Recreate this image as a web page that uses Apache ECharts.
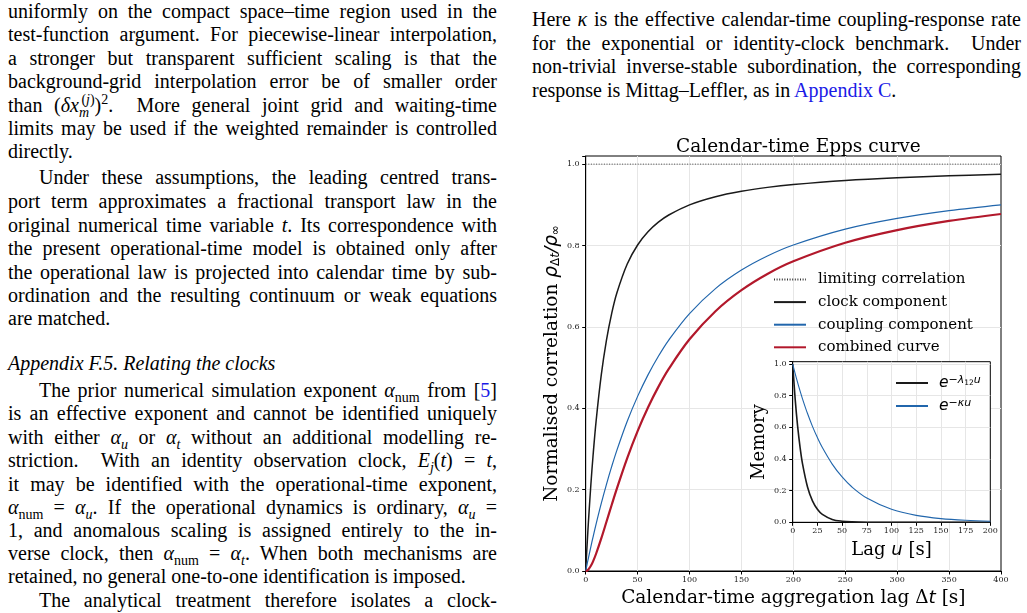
<!DOCTYPE html>
<html><head><meta charset="utf-8">
<script src="https://cdn.jsdelivr.net/npm/echarts@6.0.0/dist/echarts.min.js"></script>
<style>
html,body{margin:0;padding:0;background:#fff;width:1027px;height:613px;overflow:hidden}
#page{position:absolute;left:0;top:0;width:1027px;height:613px;font-family:'Liberation Serif','Times New Roman',serif;font-size:20px;color:#000}
.ln{position:absolute;line-height:24px;height:24px;white-space:normal}
.j{text-align:justify;text-align-last:justify}
.L{left:8px;width:489px}
.R{left:532px;width:489px}
.in{text-indent:31px}
a{color:#1a1ae6;text-decoration:none}
sub,sup{font-size:70%;line-height:0}
#chart{position:absolute;left:0;top:0;width:1027px;height:613px}
</style></head><body>
<div id="page">
<div class="ln L j" style="top:-1.3px">uniformly on the compact space–time region used in the</div>
<div class="ln L j" style="top:22px">test-function argument. For piecewise-linear interpolation,</div>
<div class="ln L j" style="top:45.5px">a stronger but transparent sufficient scaling is that the</div>
<div class="ln L j" style="top:69px">background-grid interpolation error be of smaller order</div>
<div class="ln L j" style="top:92.5px">than (<i>δx</i><sub><i>m</i></sub><sup style="margin-left:-0.55em">(<i>j</i>)</sup>)<sup>2</sup>.&nbsp; More general joint grid and waiting-time</div>
<div class="ln L j" style="top:116px">limits may be used if the weighted remainder is controlled</div>
<div class="ln L" style="top:139.3px">directly.</div>
<div class="ln L j in" style="top:165.3px">Under these assumptions, the leading centred trans-</div>
<div class="ln L j" style="top:189px">port term approximates a fractional transport law in the</div>
<div class="ln L j" style="top:212.5px">original numerical time variable <i>t</i>. Its correspondence with</div>
<div class="ln L j" style="top:236px">the present operational-time model is obtained only after</div>
<div class="ln L j" style="top:259.5px">the operational law is projected into calendar time by sub-</div>
<div class="ln L j" style="top:283px">ordination and the resulting continuum or weak equations</div>
<div class="ln L" style="top:306.3px">are matched.</div>
<div class="ln L" style="top:351px"><i>Appendix F.5. Relating the clocks</i></div>
<div class="ln L j in" style="top:377.5px">The prior numerical simulation exponent <i>α</i><sub>num</sub> from [<a>5</a>]</div>
<div class="ln L j" style="top:401px">is an effective exponent and cannot be identified uniquely</div>
<div class="ln L j" style="top:424.5px">with either <i>α<sub>u</sub></i> or <i>α<sub>t</sub></i> without an additional modelling re-</div>
<div class="ln L j" style="top:448px">striction.&nbsp; With an identity observation clock, <i>E<sub>j</sub></i>(<i>t</i>) = <i>t</i>,</div>
<div class="ln L j" style="top:471.5px">it may be identified with the operational-time exponent,</div>
<div class="ln L j" style="top:494.5px"><i>α</i><sub>num</sub> = <i>α<sub>u</sub></i>. If the operational dynamics is ordinary, <i>α<sub>u</sub></i> =</div>
<div class="ln L j" style="top:517.5px">1, and anomalous scaling is assigned entirely to the in-</div>
<div class="ln L j" style="top:540.5px">verse clock, then <i>α</i><sub>num</sub> = <i>α<sub>t</sub></i>. When both mechanisms are</div>
<div class="ln L" style="top:564px">retained, no general one-to-one identification is imposed.</div>
<div class="ln L j in" style="top:587.5px">The analytical treatment therefore isolates a clock-</div>

<div class="ln R j" style="top:7px">Here <i>κ</i> is the effective calendar-time coupling-response rate</div>
<div class="ln R j" style="top:30.5px">for the exponential or identity-clock benchmark.&nbsp; Under</div>
<div class="ln R j" style="top:54px">non-trivial inverse-stable subordination, the corresponding</div>
<div class="ln R" style="top:77.5px">response is Mittag–Leffler, as in <a>Appendix C</a>.</div>
</div>
<div id="chart"></div>
<script>
// ---- data ----
const lagDt = [0,1,2,3,5,7,10,15,20,25,30,40,50,60,70,80,100,125,150,175,200,250,300,350,400];
const clockComponent = [0,0.0484,0.0936,0.1361,0.2131,0.2808,0.3679,0.4821,0.5677,0.6328,0.6833,0.7546,0.8013,0.8337,0.8573,0.8750,0.9000,0.9200,0.9333,0.9429,0.9500,0.9600,0.9667,0.9714,0.9750];
const couplingComponent = [0,0.0124,0.0246,0.0366,0.0600,0.0826,0.1152,0.1661,0.2131,0.2564,0.2965,0.3679,0.4292,0.4821,0.5279,0.5677,0.6328,0.6941,0.7396,0.7743,0.8013,0.8403,0.8667,0.8857,0.9000];
const combinedCurve = [0,0.0006,0.0023,0.0050,0.0128,0.0232,0.0424,0.0801,0.1210,0.1622,0.2026,0.2776,0.3439,0.4019,0.4526,0.4967,0.5695,0.6386,0.6903,0.7301,0.7612,0.8067,0.8378,0.8604,0.8775];
const limitLag = [0,400];
const limitValue = [1,1];
const lagU = [0,2.5,5,7.5,10,15,20,25,30,40,50,60,75,100,125,150,175,200];
const memoryLambda = [1,0.7788,0.6065,0.4724,0.3679,0.2231,0.1353,0.0821,0.0498,0.0183,0.0067,0.0025,0.0006,0,0,0,0,0];
const memoryKappa = [1,0.9394,0.8825,0.8290,0.7788,0.6873,0.6065,0.5353,0.4724,0.3679,0.2865,0.2231,0.1534,0.0821,0.0439,0.0235,0.0126,0.0067];
const mainTicksX = {min:0,max:400,interval:50};
const mainTicksY = {min:0,max:1.02,interval:0.2};
const insetTicksX = {min:0,max:200,interval:25};
const insetTicksY = {min:0,max:1.015,interval:0.2};

const pairs = (xs, ys) => xs.map((x,i)=>[x, ys[i]]);
const SERIF = 'DejaVu Serif';
const SANS = 'DejaVu Sans';
const tickLbl = {fontFamily:SERIF,fontSize:8,color:'#222'};
const oneDec = v => (Math.abs(v*5-Math.round(v*5))<1e-6 ? v.toFixed(1) : '');
const grid1 = {lineStyle:{color:'#e6e6e6',width:1},showMinLine:false,showMaxLine:false};

const chart = echarts.init(document.getElementById('chart'), null, {renderer:'canvas'});
const nameMain = {n:{fontFamily:SERIF,fontSize:18.5,color:'#000'},m:{fontFamily:SANS,fontStyle:'italic',fontSize:18.5,color:'#000'},s:{fontFamily:SANS,fontSize:12,color:'#000',verticalAlign:'bottom'},si:{fontFamily:SANS,fontStyle:'italic',fontSize:12,color:'#000',verticalAlign:'bottom'}};
const insetLegendText = {'e^{-λ12u}':'{e|e}{p|−λ}{q|12}{p|u}','e^{-κu}':'{e|e}{p|−κu}'};
const hideSym = {opacity:0,borderWidth:0};

chart.setOption({
  animation:false,
  backgroundColor:'transparent',
  title:{text:'Calendar-time Epps curve',left:793.4,top:133,textAlign:'center',textStyle:{fontFamily:SERIF,fontSize:18.5,fontWeight:'normal',color:'#000'}},
  grid:[
    {left:585.7,top:156,width:415.3,height:415,show:true,borderColor:'#000',borderWidth:1,backgroundColor:'transparent',z:0},
    {left:792.7,top:361.7,width:197.6,height:160.6,show:true,borderColor:'#000',borderWidth:1,backgroundColor:'#fff',z:5}
  ],
  xAxis:[
    {type:'value',gridIndex:0,...mainTicksX,axisLine:{show:true,onZero:false,lineStyle:{color:'#000',width:1}},axisTick:{show:true,length:3.5,lineStyle:{color:'#000'}},axisLabel:{...tickLbl,margin:5,formatter:v=>String(v)},splitLine:{show:true,...grid1},
     name:'{n|Calendar-time aggregation lag Δ}{m|t}{n| [s]}',nameLocation:'middle',nameGap:17.5,nameTextStyle:{rich:nameMain}},
    {type:'value',gridIndex:1,...insetTicksX,z:6,axisLine:{show:true,onZero:false,lineStyle:{color:'#000',width:1}},axisTick:{show:true,length:3.5,lineStyle:{color:'#000'}},axisLabel:{...tickLbl,margin:5,formatter:v=>String(v)},splitLine:{show:true,...grid1},
     name:'{n|Lag }{m|u}{n| [s]}',nameLocation:'middle',nameGap:19,nameTextStyle:{rich:{n:{fontFamily:SERIF,fontSize:18,color:'#000'},m:{fontFamily:SANS,fontStyle:'italic',fontSize:18,color:'#000'}}}}
  ],
  yAxis:[
    {type:'value',gridIndex:0,...mainTicksY,axisLine:{show:true,onZero:false,lineStyle:{color:'#000',width:1}},axisTick:{show:true,length:3.5,lineStyle:{color:'#000'}},axisLabel:{...tickLbl,margin:6,formatter:oneDec},splitLine:{show:true,...grid1},
     name:'{n|Normalised correlation }{m|ρ}{s|Δ}{si|t}{m|/ρ}{s|∞}',nameLocation:'middle',nameGap:24,nameRotate:90,nameTextStyle:{rich:nameMain}},
    {type:'value',gridIndex:1,...insetTicksY,z:6,axisLine:{show:true,onZero:false,lineStyle:{color:'#000',width:1}},axisTick:{show:true,length:3.5,lineStyle:{color:'#000'}},axisLabel:{...tickLbl,margin:6,formatter:oneDec},splitLine:{show:true,...grid1},
     name:'Memory',nameLocation:'middle',nameGap:24,nameRotate:90,nameTextStyle:{fontFamily:SERIF,fontSize:18,color:'#000'}}
  ],
  legend:[
    {data:['limiting correlation','clock component','coupling component','combined curve'],orient:'vertical',left:768,top:267,itemWidth:32,itemHeight:12,itemGap:7.6,selectedMode:false,z:4,itemStyle:hideSym,
     formatter:n=>'{g|}{t|'+n+'}',textStyle:{rich:{g:{width:7},t:{fontFamily:SERIF,fontSize:15,color:'#000'}}}},
    {data:['e^{-λ12u}','e^{-κu}'],orient:'vertical',left:890,top:370,itemWidth:32,itemHeight:12,itemGap:7,selectedMode:false,z:9,itemStyle:hideSym,
     formatter:n=>'{g|}'+insetLegendText[n],textStyle:{rich:{g:{width:6},e:{fontFamily:SANS,fontStyle:'italic',fontSize:15.5,color:'#000'},p:{fontFamily:SANS,fontStyle:'italic',fontSize:11,color:'#000',verticalAlign:'top'},q:{fontFamily:SANS,fontSize:7.5,color:'#000',verticalAlign:'middle'}}}}
  ],
  series:[
    {name:'limiting correlation',type:'line',xAxisIndex:0,yAxisIndex:0,data:pairs(limitLag,limitValue),symbol:'none',lineStyle:{color:'#333',width:0.9,type:[1,1.6]},itemStyle:{color:'#333'},z:2},
    {name:'clock component',type:'line',xAxisIndex:0,yAxisIndex:0,data:pairs(lagDt,clockComponent),symbol:'none',smooth:0.35,lineStyle:{color:'#1a1a1a',width:1.5},itemStyle:{color:'#1a1a1a'},z:2},
    {name:'coupling component',type:'line',xAxisIndex:0,yAxisIndex:0,data:pairs(lagDt,couplingComponent),symbol:'none',smooth:0.35,lineStyle:{color:'#2166ac',width:1.2},itemStyle:{color:'#2166ac'},z:2},
    {name:'combined curve',type:'line',xAxisIndex:0,yAxisIndex:0,data:pairs(lagDt,combinedCurve),symbol:'none',smooth:0.35,lineStyle:{color:'#b2182b',width:2.2},itemStyle:{color:'#b2182b'},z:2},
    {name:'e^{-λ12u}',type:'line',xAxisIndex:1,yAxisIndex:1,data:pairs(lagU,memoryLambda),symbol:'none',smooth:0.35,lineStyle:{color:'#1a1a1a',width:1.6},itemStyle:{color:'#1a1a1a'},z:7},
    {name:'e^{-κu}',type:'line',xAxisIndex:1,yAxisIndex:1,data:pairs(lagU,memoryKappa),symbol:'none',smooth:0.35,lineStyle:{color:'#2166ac',width:1.1},itemStyle:{color:'#2166ac'},z:7}
  ]
});
</script>
</body></html>
